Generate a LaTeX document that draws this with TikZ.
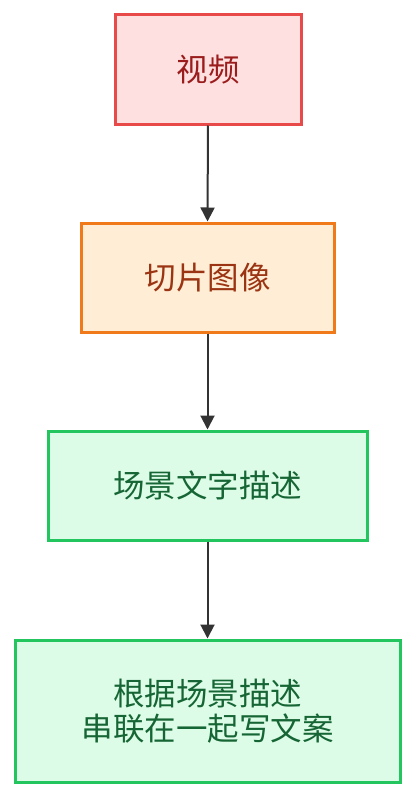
\documentclass[tikz,border=0pt]{standalone}
\usepackage{fontspec}
\setmainfont{Noto Sans CJK SC}
\usetikzlibrary{arrows.meta}
\definecolor{redfill}{HTML}{FFE0E0}
\definecolor{redline}{HTML}{E84A4A}
\definecolor{redtext}{HTML}{9B1C1C}
\definecolor{orfill}{HTML}{FFEDD5}
\definecolor{orline}{HTML}{F07A1A}
\definecolor{ortext}{HTML}{9A3412}
\definecolor{grfill}{HTML}{DCFCE7}
\definecolor{grline}{HTML}{22C55E}
\definecolor{grtext}{HTML}{166534}
\definecolor{arrowc}{HTML}{333333}
\tikzset{
  box/.style={draw, line width=3pt, rectangle, inner sep=0pt, align=center,
    font=\fontsize{31.5}{34.5}\selectfont},
  redbox/.style={box, fill=redfill, draw=redline, text=redtext},
  orbox/.style={box, fill=orfill, draw=orline, text=ortext},
  grbox/.style={box, fill=grfill, draw=grline, text=grtext},
  conn/.style={draw=arrowc, line width=2pt, -{Triangle[length=14pt,width=14pt]}}
}
\begin{document}
\begin{tikzpicture}[x=1pt,y=-1pt]
\useasboundingbox (0,0) rectangle (416,800);
\node[redbox, minimum width=186pt, minimum height=109pt] (a) at (208,69.5) {视频};
\node[orbox, minimum width=253pt, minimum height=109pt] (b) at (207.5,277.5) {切片图像};
\node[grbox, minimum width=319pt, minimum height=109pt] (c) at (207.5,485.5) {场景文字描述};
\node[grbox, minimum width=385pt, minimum height=142pt] (d) at (207.5,711) {根据场景描述\\串联在一起写文案};
\draw[conn] (a.south) -- (b.north);
\draw[conn] (b.south) -- (c.north);
\draw[conn] (c.south) -- (d.north);
\end{tikzpicture}
\end{document}
